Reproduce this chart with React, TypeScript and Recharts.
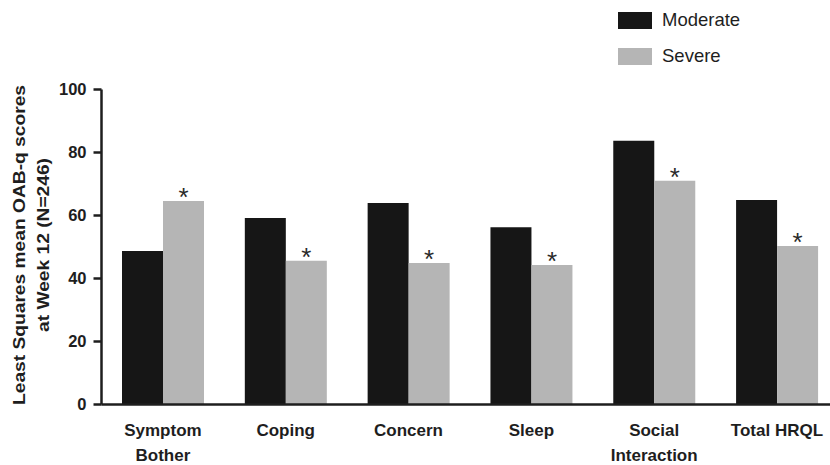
import { BarChart, Bar, XAxis, YAxis, Legend, LabelList, Label } from 'recharts'

// OAB-q subscale scores at week 12, by baseline severity
const categories = ['Symptom\nBother', 'Coping', 'Concern', 'Sleep', 'Social\nInteraction', 'Total HRQL']
const moderate = [48.7, 59.2, 64.0, 56.3, 83.7, 64.9]
const severe = [64.6, 45.6, 44.9, 44.3, 71.0, 50.3]
const significant = ['*', '*', '*', '*', '*', '*']
const yTicks = [0, 20, 40, 60, 80, 100]

const data = categories.map((name, i) => ({
  name,
  moderate: moderate[i],
  severe: severe[i],
  sig: significant[i],
}))

const DARK = '#161616'
const LIGHT = '#b5b5b5'
const INK = '#1e1e1e'
const FONT = 'Arial, "Liberation Sans", Helvetica, sans-serif'

function CategoryTick({ x, y, payload }: any) {
  const lines = String(payload.value).split('\n')
  return (
    <text x={x} y={y} textAnchor="middle" fill={INK} fontFamily={FONT} fontSize={17} fontWeight="bold">
      {lines.map((line, i) => (
        <tspan key={i} x={x} dy={i === 0 ? 31.5 : 24.5}>
          {line}
        </tspan>
      ))}
    </text>
  )
}

// axis title is drawn a bit stretched along its length, like the source figure
function YTitle() {
  return (
    <g fill={INK} fontFamily={FONT} fontSize={16} fontWeight="bold">
      <text
        transform="translate(25, 245) rotate(-90)"
        textAnchor="middle"
        textLength={320}
        lengthAdjust="spacingAndGlyphs"
      >
        Least Squares mean OAB-q scores
      </text>
      <text
        transform="translate(49, 245) rotate(-90)"
        textAnchor="middle"
        textLength={174}
        lengthAdjust="spacingAndGlyphs"
      >
        at Week 12 (N=246)
      </text>
    </g>
  )
}

function LegendBox() {
  const items = [
    { label: 'Moderate', color: DARK, top: 12 },
    { label: 'Severe', color: LIGHT, top: 48 },
  ]
  return (
    <div style={{ position: 'relative', width: 830, height: 80 }}>
      {items.map((it) => (
        <div key={it.label}>
          <div
            style={{ position: 'absolute', left: 618, top: it.top, width: 34, height: 17, background: it.color }}
          />
          <div
            style={{
              position: 'absolute',
              left: 662,
              top: it.top - 3,
              fontFamily: FONT,
              fontSize: 18.5,
              lineHeight: '22px',
              color: INK,
            }}
          >
            {it.label}
          </div>
        </div>
      ))}
    </div>
  )
}

function Star({ x, y, width, value }: any) {
  return (
    <text x={x + width / 2} y={y + 5} textAnchor="middle" fill="#2a2a2a" fontFamily={FONT} fontSize={26}>
      {value}
    </text>
  )
}

export default function App() {
  return (
    <div style={{ position: 'absolute', left: 0, top: 0, width: 830, height: 465, overflow: 'hidden', background: '#fff' }}>
      <BarChart
        width={840}
        height={465}
        data={data}
        margin={{ top: 89.5, right: 1.6, left: 0, bottom: 10.5 }}
        barCategoryGap={20.5}
        barGap={0}
      >
        <XAxis
          dataKey="name"
          height={50}
          tickLine={false}
          tickSize={0}
          tickMargin={0}
          tick={<CategoryTick />}
          interval={0}
          axisLine={{ stroke: INK, strokeWidth: 2.5 }}
        />
        <YAxis
          width={101.5}
          domain={[0, 100]}
          ticks={yTicks}
          tickSize={8}
          tickMargin={7}
          axisLine={{ stroke: INK, strokeWidth: 2.5 }}
          tickLine={{ stroke: INK, strokeWidth: 2.5 }}
          tick={{ fill: INK, fontFamily: FONT, fontSize: 16.5, fontWeight: 'bold' }}
        >
          <Label content={<YTitle />} />
        </YAxis>
        <Legend
          layout="vertical"
          verticalAlign="middle"
          align="center"
          content={<LegendBox />}
          wrapperStyle={{ position: 'absolute', left: 0, top: 0, width: 830, height: 80 }}
        />
        <Bar dataKey="moderate" name="Moderate" fill={DARK} isAnimationActive={false} />
        <Bar dataKey="severe" name="Severe" fill={LIGHT} isAnimationActive={false}>
          <LabelList dataKey="sig" content={<Star />} />
        </Bar>
      </BarChart>
    </div>
  )
}
